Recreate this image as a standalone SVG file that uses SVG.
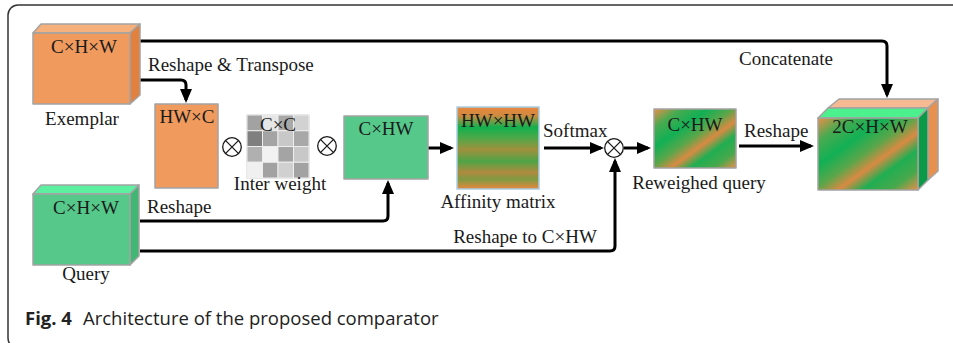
<svg xmlns="http://www.w3.org/2000/svg" width="953" height="343" viewBox="0 0 953 343">
<defs>
<style>
.t{font-family:"Liberation Serif","Times New Roman",serif;font-size:19px;fill:#1a1a1a}
.m{text-anchor:middle}
.ln{fill:none;stroke:#000;stroke-width:3;marker-end:url(#ah)}
.bx{stroke:#a3a3a3;stroke-width:1.5;stroke-linejoin:round}
.cap{font-family:"Open Sans","Noto Sans",sans-serif;font-size:18.5px;fill:#222}
</style>
<g id="otimes">
<circle cx="0" cy="0" r="9.3" fill="#fff" stroke="#1a1a1a" stroke-width="1.3"/>
<path d="M-6.6,-6.6 L6.6,6.6 M6.6,-6.6 L-6.6,6.6" stroke="#1a1a1a" stroke-width="1.3"/>
</g>
<marker id="ah" viewBox="0 0 14 12" refX="11" refY="6" markerWidth="14" markerHeight="12" markerUnits="userSpaceOnUse" orient="auto">
<path d="M0,0 L14,6 L0,12 z" fill="#000"/>
</marker>
<linearGradient id="aff" x1="0" y1="0" x2="0" y2="1">
<stop offset="0" stop-color="#E8873E"/>
<stop offset="0.1" stop-color="#D28A40"/>
<stop offset="0.25" stop-color="#12B04E"/>
<stop offset="0.38" stop-color="#4FA848"/>
<stop offset="0.52" stop-color="#A0903E"/>
<stop offset="0.66" stop-color="#4FA446"/>
<stop offset="0.8" stop-color="#B08A3E"/>
<stop offset="0.88" stop-color="#7E9A42"/>
<stop offset="1" stop-color="#E8873E"/>
</linearGradient>
<linearGradient id="dg" x1="0" y1="0" x2="1" y2="1">
<stop offset="0" stop-color="#EC8E48"/>
<stop offset="0.16" stop-color="#4AAA50"/>
<stop offset="0.33" stop-color="#12B055"/>
<stop offset="0.48" stop-color="#5AA64A"/>
<stop offset="0.6" stop-color="#D88A42"/>
<stop offset="0.72" stop-color="#20AE52"/>
<stop offset="0.86" stop-color="#48A84C"/>
<stop offset="1" stop-color="#EC8E48"/>
</linearGradient>
</defs>
<rect x="8" y="5" width="970" height="343" rx="10" fill="#fff" stroke="#333" stroke-width="1.5"/>

<g id="connectors">
<path class="ln" d="M140,41 H882 Q887,41 887,46 V95"/>
<path class="ln" d="M140,80 H181 Q186,80 186,85 V100"/>
<path class="ln" d="M140,221 H383 Q388,221 388,216 V183"/>
<path class="ln" d="M140,251 H610 Q615,251 615,246 V161"/>
<path class="ln" d="M428,148 H451"/>
<path class="ln" d="M544,148 H601"/>
<path class="ln" d="M624,148 H648"/>
<path class="ln" d="M739,146 H811"/>
</g>

<g id="exemplar">
<polygon class="bx" points="33,33 41,24 140,24 130,33" fill="#F5B07C"/>
<polygon class="bx" points="130,33 140,24 140,95 130,104" fill="#E2803E"/>
<rect class="bx" x="33" y="33" width="97" height="71" fill="#F09A5E"/>
<text class="t m" x="84" y="53">C×H×W</text>
<text class="t m" x="82" y="125">Exemplar</text>
</g>
<text class="t" x="148" y="71">Reshape &amp; Transpose</text>

<g id="query">
<polygon class="bx" points="33,194 41,185 139,185 130,194" fill="#5CF0A0"/>
<polygon class="bx" points="130,194 139,185 139,256 130,265" fill="#42B674"/>
<rect class="bx" x="33" y="194" width="97" height="71" fill="#55C88A"/>
<text class="t m" x="86" y="214">C×H×W</text>
<text class="t m" x="86" y="280">Query</text>
</g>

<g id="hwc">
<rect class="bx" x="155" y="104" width="63" height="84" fill="#F09A5E"/>
<text class="t m" x="187" y="123">HW×C</text>
<text class="t" x="147" y="213">Reshape</text>
</g>

<g id="op1"><use href="#otimes" x="232" y="147"/></g>

<g id="interweight">
<rect x="247" y="115" width="62" height="63" fill="#f2f2f2" stroke="#c8c8c8" stroke-width="1"/>
<g stroke="#eeeeee" stroke-width="1">
<rect x="247" y="115" width="15.5" height="15.75" fill="#a2a2a2"/>
<rect x="262.5" y="115" width="15.5" height="15.75" fill="#e6e6e6"/>
<rect x="278" y="115" width="15.5" height="15.75" fill="#a8a8a8"/>
<rect x="293.5" y="115" width="15.5" height="15.75" fill="#d2d2d2"/>
<rect x="247" y="130.75" width="15.5" height="15.75" fill="#7f7f7f"/>
<rect x="262.5" y="130.75" width="15.5" height="15.75" fill="#a4a4a4"/>
<rect x="278" y="130.75" width="15.5" height="15.75" fill="#c8c8c8"/>
<rect x="293.5" y="130.75" width="15.5" height="15.75" fill="#a8a8a8"/>
<rect x="247" y="146.5" width="15.5" height="15.75" fill="#b0b0b0"/>
<rect x="262.5" y="146.5" width="15.5" height="15.75" fill="#f2f2f2"/>
<rect x="278" y="146.5" width="15.5" height="15.75" fill="#a4a4a4"/>
<rect x="293.5" y="146.5" width="15.5" height="15.75" fill="#c8c8c8"/>
<rect x="247" y="162.25" width="15.5" height="15.75" fill="#f0f0f0"/>
<rect x="262.5" y="162.25" width="15.5" height="15.75" fill="#a2a2a2"/>
<rect x="278" y="162.25" width="15.5" height="15.75" fill="#d0d0d0"/>
<rect x="293.5" y="162.25" width="15.5" height="15.75" fill="#a2a2a2"/>
</g>
<text class="t m" x="278" y="131">C×C</text>
<text class="t m" x="280" y="190">Inter weight</text>
</g>

<g id="op2"><use href="#otimes" x="327" y="146"/></g>

<g id="chw">
<rect class="bx" x="344" y="116" width="84" height="63" fill="#55C88A"/>
<text class="t m" x="386" y="135">C×HW</text>
</g>

<g id="affinity">
<rect x="457" y="107" width="82" height="82" fill="url(#aff)" stroke="#a9cde6" stroke-width="1.5"/>
<text class="t m" x="498" y="127">HW×HW</text>
<text class="t m" x="498" y="208">Affinity matrix</text>
</g>

<text class="t" x="543" y="137">Softmax</text>

<g id="op3"><use href="#otimes" x="614" y="148"/></g>

<text class="t m" x="525" y="243">Reshape to C×HW</text>

<g id="reweighed">
<rect class="bx" x="654" y="109" width="82" height="59" fill="url(#dg)"/>
<text class="t m" x="695" y="131">C×HW</text>
<text class="t m" x="699" y="189">Reweighed query</text>
</g>

<text class="t" x="744" y="137">Reshape</text>
<text class="t" x="739" y="65">Concatenate</text>

<g id="concat">
<polygon class="bx" points="828,108 839,99 938,99 928,108" fill="#F6BA92"/>
<polygon class="bx" points="928,108 938,99 938,171 928,180" fill="#E8904E"/>
<polygon class="bx" points="818,118 828,108 928,108 918,118" fill="#4CF08C"/>
<polygon class="bx" points="918,118 928,108 928,180 918,190" fill="#0A9A48"/>
<rect class="bx" x="818" y="118" width="100" height="72" fill="url(#dg)"/>
<text class="t m" x="870" y="133">2C×H×W</text>
</g>

<g id="caption">
<text class="cap" x="25" y="325"><tspan font-weight="bold">Fig. 4</tspan><tspan x="83">Architecture of the proposed comparator</tspan></text>
</g>
</svg>
